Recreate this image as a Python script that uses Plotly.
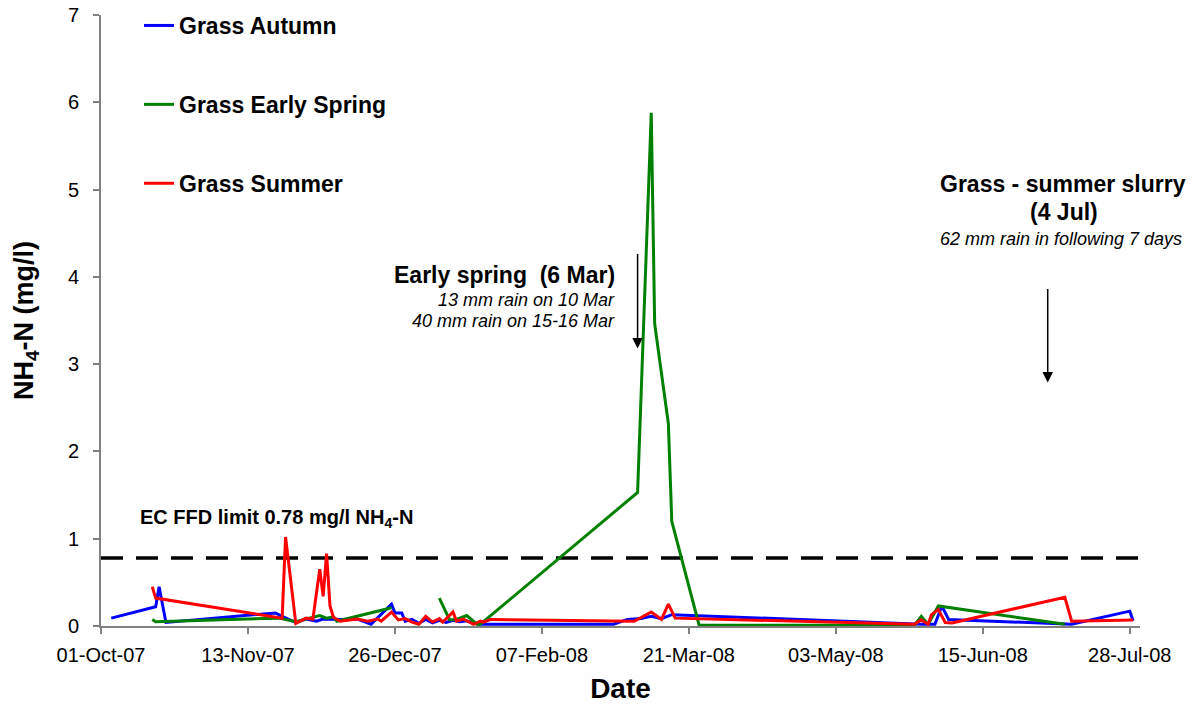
import plotly.graph_objects as go

# ---------------- data ----------------
autumn_dates = ["2007-10-04", "2007-10-17", "2007-10-18", "2007-10-20", "2007-11-21", "2007-11-23",
                "2007-11-27", "2007-11-30", "2007-12-03", "2007-12-05", "2007-12-10", "2007-12-15",
                "2007-12-17", "2007-12-19", "2007-12-25", "2007-12-26", "2007-12-28", "2007-12-29",
                "2007-12-31", "2008-01-02", "2008-01-04", "2008-01-06", "2008-01-08", "2008-01-10",
                "2008-01-12", "2008-01-14", "2008-01-16", "2008-01-18", "2008-01-20", "2008-02-07",
                "2008-02-28", "2008-03-03", "2008-03-07", "2008-03-10", "2008-03-13", "2008-03-16",
                "2008-05-26", "2008-05-28", "2008-06-01", "2008-06-03", "2008-06-05", "2008-07-09",
                "2008-07-11", "2008-07-28", "2008-07-29"]
autumn_vals = [0.09, 0.22, 0.45, 0.04, 0.15, 0.11,
               0.04, 0.08, 0.055, 0.08, 0.075, 0.08,
               0.05, 0.02, 0.25, 0.15, 0.15, 0.055,
               0.075, 0.03, 0.075, 0.035, 0.066, 0.04,
               0.065, 0.05, 0.06, 0.03, 0.02, 0.02,
               0.02, 0.075, 0.085, 0.11, 0.085, 0.13,
               0.02, 0.02, 0.02, 0.23, 0.075, 0.03,
               0.02, 0.17, 0.06]

spring_dates = ["2007-10-16", "2007-10-17", "2007-11-22", "2007-11-27", "2007-12-04", "2007-12-06",
                "2007-12-08", "2007-12-09", "2007-12-25", "2008-01-01", "2008-01-08", "2008-01-11",
                "2008-01-13", "2008-01-16", "2008-01-19", "2008-01-20", "2008-03-06", "2008-03-10",
                "2008-03-11", "2008-03-15", "2008-03-16", "2008-03-24", "2008-05-26", "2008-05-28",
                "2008-05-30", "2008-06-02", "2008-07-09"]
spring_vals = [0.075, 0.05, 0.09, 0.05, 0.12, 0.09,
               0.105, 0.055, 0.21, None, 0.32, 0.07,
               0.075, 0.12, 0.02, 0.02, 1.53, 5.88,
               3.46, 2.32, 1.20, 0.01, 0.01, 0.11,
               0.02, 0.23, 0.02]

summer_dates = ["2007-10-16", "2007-10-17", "2007-11-23", "2007-11-24", "2007-11-27", "2007-11-30",
                "2007-12-02", "2007-12-04", "2007-12-05", "2007-12-06", "2007-12-07", "2007-12-08",
                "2007-12-10", "2007-12-15", "2007-12-18", "2007-12-21", "2007-12-22", "2007-12-25",
                "2007-12-27", "2007-12-29", "2007-12-31", "2008-01-02", "2008-01-04", "2008-01-06",
                "2008-01-08", "2008-01-09", "2008-01-12", "2008-01-13", "2008-01-15", "2008-01-18",
                "2008-01-20", "2008-01-21", "2008-01-23", "2008-03-05", "2008-03-10", "2008-03-13",
                "2008-03-15", "2008-03-17", "2008-05-26", "2008-05-28", "2008-05-30", "2008-05-31",
                "2008-06-02", "2008-06-04", "2008-06-06", "2008-07-09", "2008-07-11", "2008-07-29"]
summer_vals = [0.45, 0.32, 0.09, 1.02, 0.03, 0.09,
               0.08, 0.65, 0.34, 0.83, 0.23, 0.10,
               0.055, 0.08, 0.055, 0.08, 0.055, 0.16,
               0.07, 0.085, 0.045, 0.02, 0.11, 0.045,
               0.085, 0.045, 0.16, 0.055, 0.08, 0.02,
               0.055, 0.045, 0.075, 0.055, 0.16, 0.075,
               0.25, 0.09, 0.02, 0.07, 0.02, 0.13,
               0.19, 0.04, 0.035, 0.33, 0.055, 0.07]

limit_value = 0.78
tick_dates = ["2007-10-01", "2007-11-13", "2007-12-26", "2008-02-07", "2008-03-21",
              "2008-05-03", "2008-06-15", "2008-07-28"]
tick_labels = ["01-Oct-07", "13-Nov-07", "26-Dec-07", "07-Feb-08", "21-Mar-08",
               "03-May-08", "15-Jun-08", "28-Jul-08"]

# ---------------- layout helpers ----------------
W, H = 1192, 704
L, R, T, B = 101, 52, 15, 78
pw, ph = W - L - R, H - T - B


def px(x):
    return (x - L) / pw


def py(y):
    return (H - B - y) / ph


FONT = "Liberation Sans, Arial, sans-serif"

fig = go.Figure()
series = [("Grass Autumn", autumn_dates, autumn_vals, "#0000FF"),
          ("Grass Early Spring", spring_dates, spring_vals, "#008000"),
          ("Grass Summer", summer_dates, summer_vals, "#FF0000")]
for name, d, v, c in series:
    fig.add_trace(go.Scatter(x=d, y=v, mode="lines", name=name, legendgroup=name,
                             line=dict(color=c, width=3), connectgaps=False))

fig.add_shape(type="line", xref="paper", x0=0, x1=1, yref="y", y0=limit_value, y1=limit_value,
              line=dict(color="black", width=3.5, dash="22px,13px"), layer="below")

ann = []
ann.append(dict(xref="paper", yref="paper", x=px(138), y=py(518), xanchor="left", yanchor="middle",
                text="<b>EC FFD limit 0.78 mg/l NH<sub>4</sub>-N</b>", showarrow=False,
                font=dict(size=20, color="black", family=FONT)))
ann.append(dict(xref="paper", yref="paper", x=px(617), y=py(275), xanchor="right", yanchor="middle",
                text="<b>Early spring  (6 Mar)</b>", showarrow=False,
                font=dict(size=23, color="black", family=FONT)))
ann.append(dict(xref="paper", yref="paper", x=px(617), y=py(300), xanchor="right", yanchor="middle",
                text="<i>13 mm rain on 10 Mar</i>", showarrow=False,
                font=dict(size=18, color="black", family=FONT)))
ann.append(dict(xref="paper", yref="paper", x=px(617), y=py(321), xanchor="right", yanchor="middle",
                text="<i>40 mm rain on 15-16 Mar</i>", showarrow=False,
                font=dict(size=18, color="black", family=FONT)))
ann.append(dict(xref="paper", yref="paper", x=px(1063), y=py(184), xanchor="center", yanchor="middle",
                text="<b>Grass - summer slurry</b>", showarrow=False,
                font=dict(size=23, color="black", family=FONT)))
ann.append(dict(xref="paper", yref="paper", x=px(1064), y=py(212), xanchor="center", yanchor="middle",
                text="<b>(4 Jul)</b>", showarrow=False,
                font=dict(size=23, color="black", family=FONT)))
ann.append(dict(xref="paper", yref="paper", x=px(1061), y=py(239), xanchor="center", yanchor="middle",
                text="<i>62 mm rain in following 7 days</i>", showarrow=False,
                font=dict(size=18, color="black", family=FONT)))
# arrows
ann.append(dict(xref="x", yref="y", x="2008-03-06", y=3.18, ax=0, ay=-96, text="",
                showarrow=True, arrowhead=2, arrowsize=1.4, arrowwidth=1.5, arrowcolor="black"))
ann.append(dict(xref="x", yref="y", x="2008-07-04", y=2.79, ax=0, ay=-95, text="",
                showarrow=True, arrowhead=2, arrowsize=1.4, arrowwidth=1.5, arrowcolor="black"))

fig.update_layout(
    width=W, height=H,
    margin=dict(l=L, r=R, t=T, b=B, autoexpand=False),
    paper_bgcolor="white", plot_bgcolor="white",
    font=dict(family=FONT, color="black"),
    showlegend=True,
    legend=dict(x=px(139), y=1.018, xanchor="left", yanchor="top", bgcolor="rgba(0,0,0,0)",
                font=dict(size=23, color="black", family=FONT, weight="bold"),
                tracegroupgap=46, itemwidth=30),
    annotations=ann,
    xaxis=dict(type="date", range=["2007-10-01", "2008-07-31"], tickmode="array",
               tickvals=tick_dates, ticktext=tick_labels, showgrid=False, zeroline=False,
               showline=True, linecolor="#808080", linewidth=2, ticks="outside", ticklen=6,
               tickcolor="#808080", tickwidth=1.5, tickfont=dict(size=20, color="black"),
               ticklabelstandoff=4,
               title=dict(text="<b>Date</b>", font=dict(size=28, color="black"), standoff=14)),
    yaxis=dict(range=[0, 7], dtick=1, showgrid=False, zeroline=False, showline=True,
               linecolor="#808080", linewidth=2, ticks="outside", ticklen=6, tickcolor="#808080",
               tickwidth=1.5, tickfont=dict(size=20, color="black"), ticklabelstandoff=10,
               title=dict(text="<b>NH<sub>4</sub>-N (mg/l)</b>", font=dict(size=27, color="black"),
                          standoff=26)),
)

fig.write_html("out.html", config={"displayModeBar": False},
               post_script="document.body.style.margin='0px';")
